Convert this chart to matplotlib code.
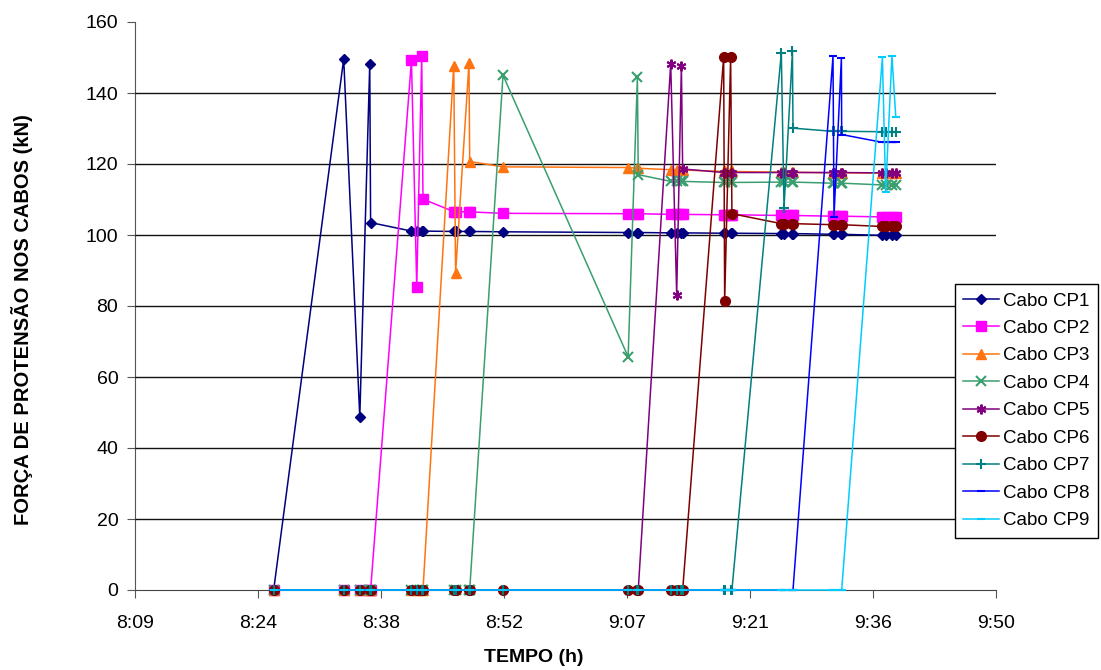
import numpy as np
import matplotlib
matplotlib.use("Agg")
import matplotlib.pyplot as plt

# leituras (h:mm:ss) - 1 leitura inicial + 4 por cabo (pico, queda, pico, final)
tempo = ["8:25:50",
         "8:34:02", "8:35:55", "8:37:05", "8:37:11",
         "8:41:58", "8:42:35", "8:43:10", "8:43:19",
         "8:46:55", "8:47:08", "8:48:42", "8:48:47",
         "8:52:41", "9:07:20", "9:08:25", "9:08:31",
         "9:12:19", "9:13:01", "9:13:34", "9:13:43",
         "9:18:31", "9:18:38", "9:19:20", "9:19:29",
         "9:25:16", "9:25:35", "9:26:34", "9:26:38",
         "9:31:19", "9:31:26", "9:32:18", "9:32:20",
         "9:37:06", "9:37:29", "9:38:13", "9:38:40"]

cp1 = [0, 149.6, 48.7, 148.2, 103.5,
       101.1, 101.1, 101.1, 101.1, 101.0, 101.0, 101.0, 101.0,
       100.9, 100.7, 100.7, 100.7, 100.6, 100.6, 100.6, 100.6,
       100.5, 100.5, 100.5, 100.5, 100.4, 100.4, 100.4, 100.4,
       100.2, 100.2, 100.2, 100.2, 99.9, 99.9, 99.9, 99.9]
cp2 = [0, 0, 0, 0, 0,
       149.2, 85.4, 150.3, 110.1, 106.6, 106.6, 106.5, 106.5,
       106.1, 106.0, 106.0, 106.0, 105.8, 105.8, 105.8, 105.8,
       105.7, 105.7, 105.7, 105.7, 105.5, 105.5, 105.5, 105.5,
       105.3, 105.3, 105.3, 105.3, 105.1, 105.1, 105.1, 105.1]
cp3 = [0, 0, 0, 0, 0, 0, 0, 0, 0,
       147.7, 89.3, 148.4, 120.7,
       119.2, 119.0, 118.8, 118.8, 118.4, 118.4, 118.3, 118.3,
       117.9, 117.9, 117.9, 117.9, 117.7, 117.7, 117.7, 117.7,
       117.5, 117.5, 117.5, 117.5, 117.4, 117.4, 117.4, 117.4]
cp4 = [0] * 13 + [145.0, 65.7, 144.4, 117.0,
                  115.1, 115.1, 115.1, 115.1, 114.8, 114.8, 114.8, 114.8,
                  114.9, 114.9, 114.9, 114.9, 114.6, 114.6, 114.6, 114.6,
                  114.1, 114.1, 114.1, 114.1]
cp5 = [0] * 17 + [148.2, 83.2, 147.7, 118.6,
                  117.6, 117.6, 117.6, 117.6, 117.6, 117.6, 117.6, 117.6,
                  117.6, 117.6, 117.6, 117.6, 117.5, 117.5, 117.5, 117.5]
cp6 = [0] * 21 + [150.1, 81.3, 150.1, 106.0,
                  103.2, 103.2, 103.2, 103.2, 102.9, 102.9, 102.9, 102.9,
                  102.4, 102.4, 102.4, 102.4]
cp7 = [0] * 25 + [151.3, 107.6, 151.7, 130.1,
                  129.2, 129.2, 129.2, 129.2, 129.1, 129.1, 129.1, 129.1]
cp8 = [0] * 29 + [150.3, 105.2, 149.9, 128.3, 126.1, 126.1, 126.1, 126.1]
cp9 = [0] * 33 + [150.1, 112.1, 150.5, 133.2]

nomes = ["Cabo CP1", "Cabo CP2", "Cabo CP3", "Cabo CP4", "Cabo CP5",
         "Cabo CP6", "Cabo CP7", "Cabo CP8", "Cabo CP9"]
xticklabels = ["8:09", "8:24", "8:38", "8:52", "9:07", "9:21", "9:36", "9:50"]


def dia(s):
    h, m, sec = (int(v) for v in s.split(":"))
    return h / 24 + m / 1440 + sec / 86400


x = np.array([dia(s) for s in tempo])
series = [cp1, cp2, cp3, cp4, cp5, cp6, cp7, cp8, cp9]
cores = ["#000080", "#FF00FF", "#FF7410", "#3A9E6E", "#800080",
         "#800000", "#008080", "#0000FF", "#00CCFF"]
marcadores = ["D", "s", "^", "x", (6, 2, 0), "o", "+", "_", "_"]
tamanhos = [5.5, 7, 7, 7, 7, 7, 7, 6, 6]

plt.rcParams['font.family'] = ['Liberation Sans', 'DejaVu Sans']

fig = plt.figure(figsize=(11.01, 6.70), dpi=100)
ax = fig.add_axes([135 / 1101, 80 / 670, 861 / 1101, 568 / 670])

for y in [20, 40, 60, 80, 100, 120, 140]:
    ax.axhline(y, color="#111111", lw=1.0, zorder=1)

for vals, nome, c, mk, ms in zip(series, nomes, cores, marcadores, tamanhos):
    ax.plot(x, vals, color=c, lw=1.1, marker=mk, markersize=ms,
            markeredgewidth=1.5 if mk in ("x", "+", "_", (6, 2, 0)) else 1,
            markerfacecolor=c, markeredgecolor=c, label=nome, zorder=3,
            clip_on=False)

ax.set_xlim(0.34, 0.41)
ax.set_ylim(0, 160)
ax.set_xticks(np.arange(0.34, 0.4101, 0.01))
ax.set_xticklabels(xticklabels, fontsize=14)
ax.set_yticks(np.arange(0, 161, 20))
ax.tick_params(axis="y", labelsize=14, length=6, color="#555555", pad=6)
ax.tick_params(axis="x", length=6, color="#555555", pad=12)

for s in ["top", "right"]:
    ax.spines[s].set_visible(False)
ax.spines["left"].set_color("#555555")
ax.spines["bottom"].set_color("#444444")
ax.spines["left"].set_zorder(0)
ax.spines["bottom"].set_zorder(0)

fig.text(534 / 1101, 1 - 657 / 670, "TEMPO (h)", ha="center", va="center",
         fontsize=14, fontweight="bold")
fig.text(22 / 1101, 1 - 320 / 670, "FORÇA DE PROTENSÃO NOS CABOS (kN)",
         ha="center", va="center", rotation=90, fontsize=14.5,
         fontweight="bold")

leg = fig.legend(loc="upper left", bbox_to_anchor=(955 / 1101, 1 - 284 / 670),
                 fontsize=13.5, frameon=True, fancybox=False, framealpha=1,
                 edgecolor="black", handlelength=1.9, handletextpad=0.2,
                 labelspacing=0.55, borderpad=0.45, borderaxespad=0)
leg.get_frame().set_linewidth(1.0)

fig.savefig("out.png", dpi=100)
